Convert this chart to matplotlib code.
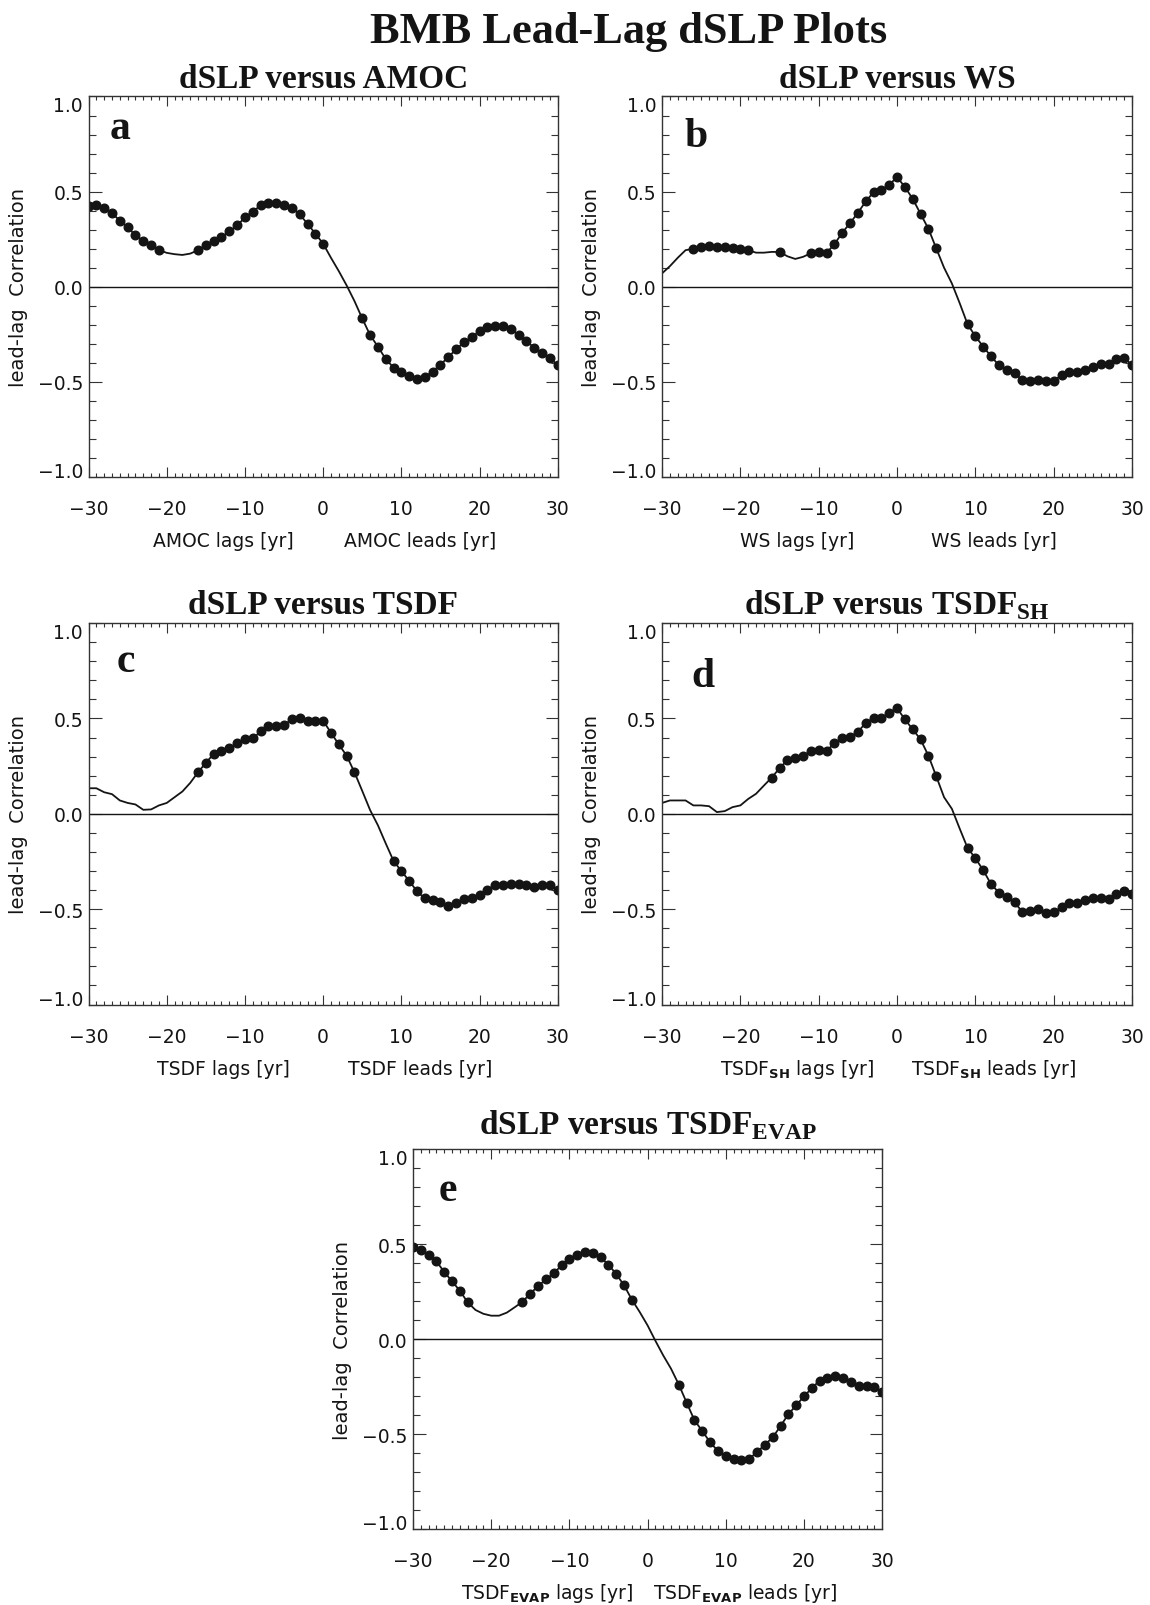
import matplotlib.pyplot as plt
from matplotlib.ticker import MultipleLocator, FuncFormatter

plt.rcParams["mathtext.fontset"] = "custom"
plt.rcParams["mathtext.rm"] = "Liberation Serif:bold"
plt.rcParams["mathtext.sf"] = "DejaVu Sans:bold"

# lead-lag (years) for every panel
lags = list(range(-30, 31))

# a: dSLP versus AMOC
corr_a = [0.425, 0.43, 0.413, 0.387, 0.347, 0.312, 0.27, 0.242, 0.218, 0.193,
          0.178, 0.171, 0.167, 0.174,
          0.192, 0.22, 0.24, 0.261, 0.291, 0.322, 0.364, 0.395, 0.427, 0.441,
          0.441, 0.432, 0.415, 0.38, 0.331, 0.279, 0.226,
          0.152, 0.082, 0.007, -0.075,
          -0.167, -0.254, -0.315, -0.38, -0.425, -0.449, -0.467, -0.484, -0.476,
          -0.446, -0.409, -0.371, -0.328, -0.293, -0.263, -0.235, -0.214, -0.206,
          -0.209, -0.223, -0.254, -0.286, -0.321, -0.348, -0.376, -0.411]
sig_a = [*range(-30, -20), *range(-16, 1), *range(5, 31)]

# b: dSLP versus WS
corr_b = [0.07, 0.108, 0.152, 0.192,
          0.2, 0.207, 0.213, 0.211, 0.207, 0.206, 0.199, 0.192,
          0.179, 0.179, 0.183,
          0.183,
          0.16, 0.146, 0.157,
          0.176, 0.181, 0.178, 0.223, 0.284, 0.334, 0.389, 0.448, 0.497, 0.51,
          0.535, 0.577, 0.524, 0.462, 0.383, 0.305, 0.202,
          0.1, 0.017, -0.087,
          -0.197, -0.261, -0.315, -0.366, -0.413, -0.439, -0.455, -0.49, -0.497,
          -0.491, -0.497, -0.495, -0.465, -0.448, -0.446, -0.439, -0.422, -0.408,
          -0.406, -0.38, -0.376, -0.411]
sig_b = [*range(-26, -18), -15, *range(-11, 6), *range(9, 31)]

# c: dSLP versus TSDF
corr_c = [0.134, 0.134, 0.113, 0.103, 0.07, 0.057, 0.049, 0.021, 0.023, 0.044,
          0.057, 0.087, 0.117, 0.162,
          0.218, 0.267, 0.314, 0.328, 0.343, 0.371, 0.39, 0.395, 0.432, 0.458,
          0.462, 0.467, 0.495, 0.502, 0.484, 0.484, 0.488, 0.425, 0.364, 0.305,
          0.218,
          0.12, 0.02, -0.06, -0.155,
          -0.247, -0.3, -0.352, -0.406, -0.444, -0.453, -0.462, -0.483, -0.467,
          -0.449, -0.444, -0.427, -0.397, -0.375, -0.375, -0.366, -0.366, -0.375,
          -0.385, -0.375, -0.375, -0.402]
sig_c = [*range(-16, 5), *range(9, 31)]

# d: dSLP versus TSDF_SH
corr_d = [0.057, 0.07, 0.07, 0.07, 0.044, 0.044, 0.04, 0.009, 0.014, 0.035,
          0.044, 0.078, 0.105, 0.148,
          0.19, 0.239, 0.282, 0.294, 0.305, 0.329, 0.334, 0.331, 0.369, 0.395,
          0.404, 0.43, 0.476, 0.502, 0.502, 0.531, 0.554, 0.495, 0.443, 0.39,
          0.305, 0.197,
          0.087, 0.026, -0.078,
          -0.179, -0.233, -0.296, -0.369, -0.413, -0.436, -0.465, -0.514, -0.509,
          -0.5, -0.521, -0.514, -0.491, -0.47, -0.469, -0.453, -0.441, -0.444,
          -0.449, -0.418, -0.406, -0.418]
sig_d = [*range(-16, 6), *range(9, 31)]

# e: dSLP versus TSDF_EVAP
corr_e = [0.484, 0.47, 0.444, 0.409, 0.353, 0.304, 0.254, 0.193,
          0.153, 0.133, 0.123, 0.123, 0.139, 0.167,
          0.196, 0.239, 0.279, 0.314, 0.346, 0.388, 0.423, 0.444, 0.458, 0.453,
          0.43, 0.391, 0.342, 0.282, 0.207,
          0.142, 0.072, -0.009, -0.086, -0.156,
          -0.24, -0.335, -0.428, -0.484, -0.544, -0.589, -0.616, -0.63, -0.639,
          -0.63, -0.595, -0.556, -0.518, -0.458, -0.396, -0.349, -0.302, -0.258,
          -0.219, -0.207, -0.196, -0.205, -0.226, -0.247, -0.247, -0.254, -0.279]
sig_e = [*range(-30, -22), *range(-16, -1), *range(4, 31)]

INK = "#141414"
SANS = "DejaVu Sans"
SERIF = "Liberation Serif"

fig = plt.figure(figsize=(11.5, 16.06), dpi=100)
fig.text(0.547, 0.9732, "BMB Lead-Lag dSLP Plots", ha="center", va="baseline",
         family=SERIF, weight="bold", fontsize=32, color=INK)


def ytick_fmt(v, pos):
    if abs(v) < 1e-9:
        v = 0.0
    return f"{v:.1f}".replace("-", "\u2212")


def draw_panel(rect, corr, sig, letter, letter_xy, title, var, title_pad):
    ax = fig.add_axes(rect)
    ax.plot(lags, corr, color=INK, lw=1.3)
    ax.plot(sig, [corr[lags.index(l)] for l in sig], "o", color=INK, ms=6.2)
    ax.axhline(0, color=INK, lw=1.0)

    ax.set_xlim(-30, 30)
    ax.set_ylim(-1, 1)
    ax.xaxis.set_major_locator(MultipleLocator(10))
    ax.xaxis.set_minor_locator(MultipleLocator(1))
    ax.yaxis.set_major_locator(MultipleLocator(0.5))
    ax.yaxis.set_minor_locator(MultipleLocator(0.1))
    ax.yaxis.set_major_formatter(FuncFormatter(ytick_fmt))
    ax.tick_params(which="both", direction="in", top=True, right=True,
                   width=0.8, color="#333333", labelsize=13.5, labelcolor=INK)
    ax.tick_params(axis="x", which="major", length=7, pad=16)
    ax.tick_params(axis="x", which="minor", length=3)
    ax.tick_params(axis="y", which="major", length=9, pad=4)
    ax.tick_params(axis="y", which="minor", length=5)
    for sp in ax.spines.values():
        sp.set_linewidth(1.0)
        sp.set_color("#333333")

    ax.set_ylabel("lead-lag  Correlation", fontsize=14, family=SANS, color=INK)
    ax.yaxis.set_label_coords(-0.13, 0.5)
    trans = ax.get_xaxis_transform()
    ax.text(-12.8, -0.168, f"{var} lags [yr]", transform=trans, ha="center",
            va="center", fontsize=13.5, family=SANS, color=INK)
    ax.text(12.4, -0.168, f"{var} leads [yr]", transform=trans, ha="center",
            va="center", fontsize=13.5, family=SANS, color=INK)

    ax.set_title(title, family=SERIF, weight="bold", fontsize=24, color=INK,
                 pad=title_pad)
    ax.text(letter_xy[0], letter_xy[1], letter, transform=ax.transAxes,
            ha="center", va="baseline", family=SERIF, weight="bold",
            fontsize=30, color=INK)
    return ax


axes = [
    draw_panel([0.077, 0.7024, 0.408, 0.2369], corr_a, sig_a, "a", (0.067, 0.892),
               "dSLP versus AMOC", "AMOC", 7),
    draw_panel([0.5757, 0.7024, 0.4087, 0.2369], corr_b, sig_b, "b", (0.072, 0.871),
               "dSLP versus WS", "WS", 7),
    draw_panel([0.077, 0.3739, 0.408, 0.2375], corr_c, sig_c, "c", (0.079, 0.874),
               "dSLP versus TSDF", "TSDF", 7),
    draw_panel([0.5757, 0.3739, 0.4087, 0.2375], corr_d, sig_d, "d", (0.087, 0.834),
               "dSLP versus TSDF$_{\\mathrm{SH}}$", "TSDF$_{\\mathsf{SH}}$", 7),
    draw_panel([0.3591, 0.0473, 0.408, 0.2366], corr_e, sig_e, "e", (0.074, 0.866),
               "dSLP versus TSDF$_{\\mathrm{EVAP}}$", "TSDF$_{\\mathsf{EVAP}}$", 12),
]

# the end labels sit inside the frame, as in the original plot
fig.canvas.draw()
for ax in axes:
    for tick in ax.yaxis.get_major_ticks():
        if abs(tick.get_loc() - 1.0) < 1e-6:
            tick.label1.set_va("top")
        elif abs(tick.get_loc() + 1.0) < 1e-6:
            tick.label1.set_va("baseline")

fig.savefig("out.png", dpi=100)
